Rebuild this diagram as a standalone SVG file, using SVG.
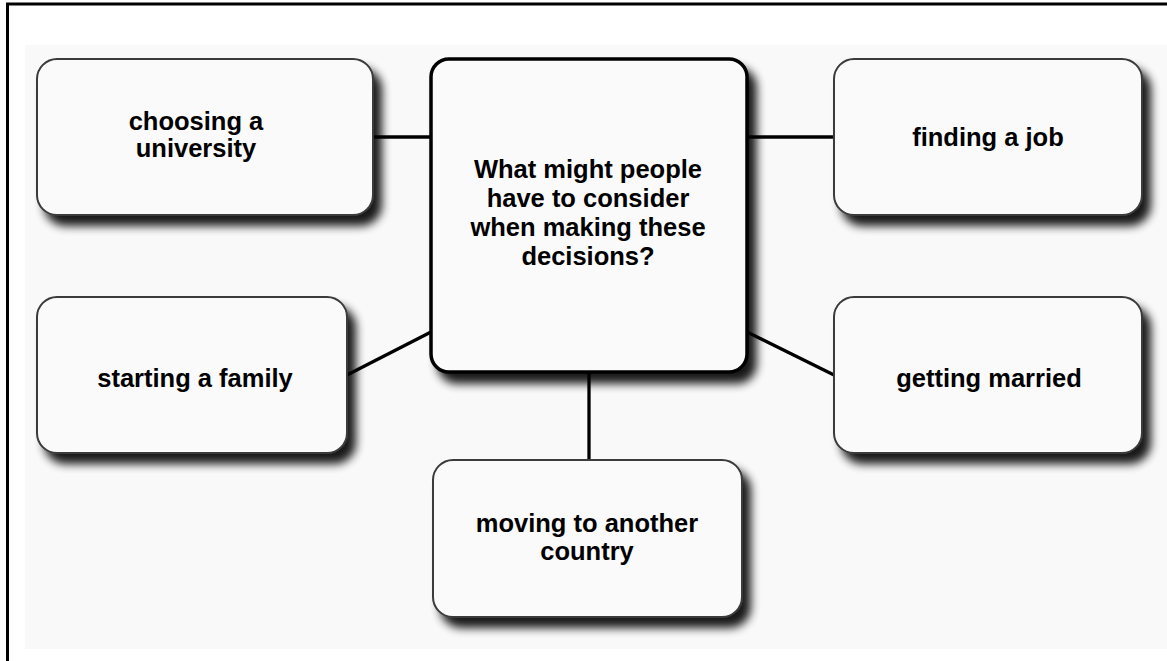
<svg xmlns="http://www.w3.org/2000/svg" width="1167" height="661" viewBox="0 0 1167 661">
<defs>
<filter id="sh" x="-10%" y="-10%" width="130%" height="150%">
<feGaussianBlur in="SourceAlpha" stdDeviation="5"/>
<feOffset dx="8" dy="10" result="b"/>
<feComponentTransfer><feFuncA type="linear" slope="0.9"/></feComponentTransfer>
<feMerge><feMergeNode/><feMergeNode in="SourceGraphic"/></feMerge>
</filter>
</defs>
<style>
.box{fill:#fafafa;stroke:#3a3a3a;stroke-width:2}
.main{fill:#fafafa;stroke:#000;stroke-width:3.5}
.lbl{font-family:"Liberation Sans",Arial,sans-serif;font-weight:bold;font-size:25.5px;fill:#000;text-anchor:middle}
.con{stroke:#000;stroke-width:3.3;fill:none}
</style>
<rect x="0" y="0" width="1167" height="661" fill="#fff"/>
<rect x="25" y="45" width="1142" height="604" fill="#f9f9f9"/>
<path d="M7.5 661 V4 H1167" fill="none" stroke="#000" stroke-width="3"/>
<g id="connectors">
<line class="con" x1="373" y1="137" x2="431" y2="137"/>
<line class="con" x1="747" y1="137" x2="834" y2="137"/>
<line class="con" x1="347" y1="375" x2="431" y2="332"/>
<line class="con" x1="747" y1="332" x2="834" y2="375"/>
<line class="con" x1="589" y1="372" x2="589" y2="460"/>
</g>
<g id="n-university">
<rect class="box" x="37" y="59" width="336" height="156" rx="20" filter="url(#sh)"/>
<text class="lbl" x="196" y="130">choosing a</text>
<text class="lbl" x="196" y="157">university</text>
</g>
<g id="n-center">
<rect class="main" x="431" y="59" width="316" height="313" rx="18" filter="url(#sh)"/>
<text class="lbl" x="588" y="178">What might people</text>
<text class="lbl" x="588" y="207">have to consider</text>
<text class="lbl" x="588" y="236">when making these</text>
<text class="lbl" x="588" y="265">decisions?</text>
</g>
<g id="n-job">
<rect class="box" x="834" y="59" width="308" height="156" rx="20" filter="url(#sh)"/>
<text class="lbl" x="988" y="146">finding a job</text>
</g>
<g id="n-family">
<rect class="box" x="37" y="297" width="310" height="156" rx="20" filter="url(#sh)"/>
<text class="lbl" x="195" y="387">starting a family</text>
</g>
<g id="n-married">
<rect class="box" x="834" y="297" width="308" height="156" rx="20" filter="url(#sh)"/>
<text class="lbl" x="989" y="387">getting married</text>
</g>
<g id="n-moving">
<rect class="box" x="433" y="460" width="309" height="157" rx="20" filter="url(#sh)"/>
<text class="lbl" x="587" y="532">moving to another</text>
<text class="lbl" x="587" y="560">country</text>
</g>
</svg>
